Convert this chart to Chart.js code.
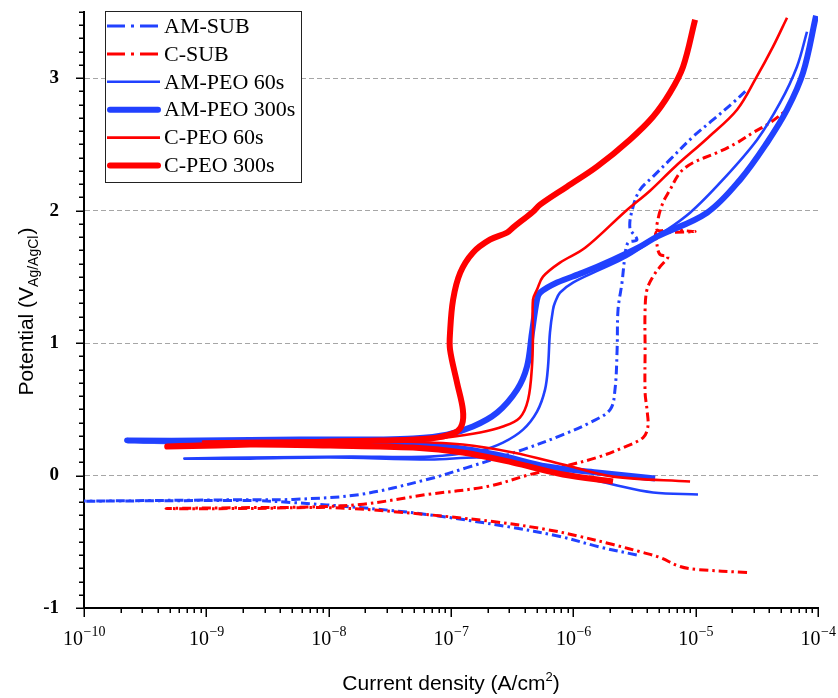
<!DOCTYPE html>
<html>
<head>
<meta charset="utf-8">
<title>Potentiodynamic polarization curves</title>
<script src="https://cdn.jsdelivr.net/npm/chart.js@4.4.1/dist/chart.umd.min.js"></script>
<style>
  html, body { margin: 0; padding: 0; background: #fff; }
  #wrap { width: 838px; height: 698px; }
</style>
</head>
<body>
<div id="wrap"><canvas id="c" width="838" height="698"></canvas></div>
<script>
// Current density (A/cm^2) and potential (V vs Ag/AgCl) for each sample,
// listed from the cathodic end through Ecorr to the anodic end.
const amSubJ = [3.3e-6, 1.65e-6, 7.78e-7, 2.87e-7, 6.37e-8, 1.80e-8, 5.11e-9, 2.28e-9, 5e-11, 2.28e-9, 5.11e-9, 1.80e-8, 6.37e-8, 1.35e-7, 3.88e-7, 8.24e-7, 1.37e-6, 2.0e-6, 2.19e-6, 2.28e-6, 2.32e-6, 2.50e-6, 2.64e-6, 2.80e-6, 3.31e-6, 2.90e-6, 3.08e-6, 3.51e-6, 4.48e-6, 6.17e-6, 9.5e-6, 1.39e-5, 2.02e-5, 2.63e-5];
const amSubE = [-0.60, -0.54, -0.46, -0.385, -0.294, -0.242, -0.204, -0.189, -0.196, -0.182, -0.18, -0.143, -0.03, 0.06, 0.196, 0.309, 0.40, 0.498, 0.649, 0.951, 1.253, 1.457, 1.653, 1.758, 1.78, 1.87, 2.03, 2.158, 2.257, 2.385, 2.558, 2.687, 2.815, 2.913];

const cSubJ = [2.63e-5, 1.03e-5, 7.45e-6, 5.12e-6, 3.72e-6, 2.11e-6, 1.135e-6, 6.10e-7, 2.20e-7, 3.36e-8, 9.68e-9, 2.28e-9, 4.68e-10, 2.28e-9, 5.11e-9, 1.80e-8, 6.37e-8, 1.97e-7, 4.43e-7, 8.24e-7, 1.56e-6, 2.55e-6, 3.72e-6, 4.07e-6, 4.0e-6, 3.86e-6, 3.86e-6, 3.86e-6, 4.0e-6, 4.48e-6, 5.12e-6, 5.94e-6, 5.12e-6, 4.83e-6, 4.83e-6, 9.89e-6, 4.92e-6, 4.92e-6, 5.40e-6, 6.17e-6, 7.45e-6, 9.5e-6, 1.50e-5, 2.18e-5, 2.94e-5, 4.06e-5, 5.58e-5];
const cSubE = [-0.732, -0.709, -0.687, -0.619, -0.581, -0.521, -0.46, -0.408, -0.347, -0.272, -0.242, -0.249, -0.249, -0.242, -0.240, -0.219, -0.143, -0.083, 0.008, 0.068, 0.136, 0.211, 0.287, 0.37, 0.498, 0.626, 0.951, 1.253, 1.404, 1.502, 1.577, 1.653, 1.668, 1.743, 1.842, 1.842, 1.85, 1.932, 2.06, 2.158, 2.287, 2.362, 2.438, 2.513, 2.589, 2.664, 2.762];

const amPeo60J = [1.045e-5, 4.48e-6, 2.11e-6, 1.135e-6, 6.10e-7, 3.21e-7, 1.73e-7, 6.73e-8, 1.03e-8, 2.28e-9, 6.61e-10, 2.28e-9, 1.49e-8, 6.73e-8, 1.73e-7, 2.66e-7, 3.88e-7, 5.05e-7, 5.87e-7, 6.21e-7, 6.44e-7, 6.82e-7, 7.08e-7, 7.78e-7, 9.93e-7, 1.65e-6, 2.75e-6, 4.83e-6, 9.0e-6, 1.67e-5, 3.18e-5, 4.90e-5, 6.73e-5, 8.13e-5];
const amPeo60E = [-0.143, -0.128, -0.068, -0.008, 0.06, 0.106, 0.136, 0.121, 0.136, 0.128, 0.128, 0.136, 0.143, 0.143, 0.189, 0.249, 0.347, 0.483, 0.649, 0.823, 1.079, 1.253, 1.306, 1.381, 1.457, 1.555, 1.653, 1.804, 1.985, 2.234, 2.536, 2.815, 3.087, 3.351];

const amPeo300J = [4.66e-6, 1.56e-6, 6.10e-7, 2.38e-7, 9.27e-8, 3.62e-8, 5.83e-9, 8.87e-10, 2.25e-10, 8.87e-10, 5.83e-9, 2.63e-8, 4.90e-8, 9.27e-8, 1.51e-7, 2.38e-7, 3.47e-7, 4.18e-7, 4.59e-7, 5.05e-7, 5.35e-7, 7.36e-7, 1.20e-6, 2.11e-6, 3.51e-6, 4.83e-6, 1.24e-5, 2.31e-5, 3.83e-5, 5.58e-5, 7.55e-5, 9.64e-5];
const amPeo300E = [-0.023, 0.023, 0.068, 0.158, 0.219, 0.249, 0.257, 0.257, 0.264, 0.264, 0.272, 0.272, 0.279, 0.309, 0.37, 0.475, 0.649, 0.823, 1.079, 1.328, 1.381, 1.457, 1.532, 1.630, 1.728, 1.804, 1.985, 2.234, 2.513, 2.762, 3.042, 3.472];

const cPeo60J = [9.0e-6, 2.11e-6, 8.24e-7, 3.21e-7, 1.25e-7, 3.62e-8, 5.83e-9, 9.4e-10, 5.83e-9, 4.90e-8, 9.27e-8, 1.73e-7, 2.66e-7, 3.66e-7, 4.27e-7, 4.59e-7, 4.68e-7, 4.68e-7, 5.05e-7, 5.65e-7, 7.78e-7, 1.25e-6, 2.70e-6, 4.24e-6, 6.78e-6, 1.26e-5, 2.18e-5, 3.11e-5, 4.29e-5, 5.58e-5];
const cPeo60E = [-0.045, -0.008, 0.083, 0.174, 0.234, 0.257, 0.257, 0.257, 0.264, 0.264, 0.287, 0.325, 0.37, 0.438, 0.574, 0.823, 1.079, 1.328, 1.404, 1.502, 1.608, 1.72, 2.0, 2.151, 2.332, 2.551, 2.762, 3.0, 3.238, 3.457];

const cPeo300J = [2.11e-6, 8.24e-7, 3.21e-7, 1.25e-7, 4.90e-8, 1.03e-8, 2.28e-9, 4.79e-10, 2.28e-9, 1.03e-8, 2.63e-8, 6.73e-8, 1.08e-7, 1.23e-7, 1.25e-7, 1.12e-7, 9.82e-8, 9.82e-8, 1.04e-7, 1.19e-7, 1.51e-7, 2.08e-7, 2.87e-7, 3.21e-7, 4.68e-7, 5.35e-7, 8.87e-7, 1.56e-6, 2.90e-6, 4.48e-6, 6.17e-6, 7.89e-6, 9.89e-6];
const cPeo300E = [-0.045, 0.008, 0.098, 0.174, 0.211, 0.226, 0.234, 0.219, 0.234, 0.257, 0.264, 0.279, 0.325, 0.385, 0.498, 0.702, 0.951, 1.079, 1.328, 1.532, 1.683, 1.781, 1.834, 1.872, 1.992, 2.045, 2.181, 2.332, 2.536, 2.709, 2.891, 3.087, 3.442];

const seriesLabels = ['AM-SUB', 'C-SUB', 'AM-PEO 60s', 'AM-PEO 300s', 'C-PEO 60s', 'C-PEO 300s'];
const xDecades = [-10, -9, -8, -7, -6, -5, -4];
const yMajorTicks = [-1, 0, 1, 2, 3];

const BLUE = '#2141ff';
const RED = '#ff0000';
const DASH_DOT = [9, 4, 2.5, 4];
const LEGEND_DASH_DOT = [18, 6, 3, 6];

function pairs(js, es) {
  return js.map((j, i) => ({ x: j, y: es[i] }));
}

const styles = [
  { data: pairs(amSubJ, amSubE), color: BLUE, width: 3, dash: DASH_DOT },
  { data: pairs(cSubJ, cSubE), color: RED, width: 3, dash: DASH_DOT },
  { data: pairs(amPeo60J, amPeo60E), color: BLUE, width: 2.6, dash: [] },
  { data: pairs(amPeo300J, amPeo300E), color: BLUE, width: 6, dash: [] },
  { data: pairs(cPeo60J, cPeo60E), color: RED, width: 2.6, dash: [] },
  { data: pairs(cPeo300J, cPeo300E), color: RED, width: 6, dash: [] }
];

const datasets = styles.map((s, i) => ({
  label: seriesLabels[i],
  data: s.data,
  showLine: true,
  borderColor: s.color,
  backgroundColor: s.color,
  borderWidth: s.width,
  borderDash: s.dash,
  borderCapStyle: 'butt',
  borderJoinStyle: 'round',
  pointRadius: 0,
  pointHoverRadius: 0,
  tension: 0.35,
  fill: false,
  order: seriesLabels.length - i
}));

const SERIF = '"Liberation Serif", "Times New Roman", serif';
const SANS = '"Liberation Sans", Arial, sans-serif';

// Tick marks, exponent tick labels, axis titles and the boxed legend.
const decorations = {
  id: 'decorations',
  afterDraw(chart) {
    const { ctx, chartArea: a, scales: { x, y } } = chart;
    ctx.save();

    // y ticks: major on integers, minor every 0.1 V
    ctx.strokeStyle = '#000';
    ctx.lineWidth = 1.5;
    for (let k = 0; k <= 45; k++) {
      const v = -1 + k * 0.1;
      const py = Math.round(y.getPixelForValue(v)) + 0.25;
      const len = (k % 10 === 0) ? 8 : 5;
      ctx.beginPath();
      ctx.moveTo(a.left - len, py);
      ctx.lineTo(a.left, py);
      ctx.stroke();
    }

    // x ticks: decades plus 2..9 minors
    xDecades.forEach((d) => {
      const px = Math.round(x.getPixelForValue(Math.pow(10, d))) + 0.25;
      ctx.beginPath();
      ctx.moveTo(px, a.bottom);
      ctx.lineTo(px, a.bottom + 9);
      ctx.stroke();
      if (d < xDecades[xDecades.length - 1]) {
        for (let m = 2; m <= 9; m++) {
          const mx = Math.round(x.getPixelForValue(m * Math.pow(10, d))) + 0.25;
          ctx.beginPath();
          ctx.moveTo(mx, a.bottom);
          ctx.lineTo(mx, a.bottom + 5);
          ctx.stroke();
        }
      }
    });

    // x tick labels as 10 with a superscript exponent
    ctx.fillStyle = '#000';
    ctx.textBaseline = 'alphabetic';
    ctx.textAlign = 'left';
    xDecades.forEach((d) => {
      const base = '10';
      const exp = '\u2212' + Math.abs(d);
      ctx.font = '20px ' + SERIF;
      const wb = ctx.measureText(base).width;
      ctx.font = '14px ' + SERIF;
      const we = ctx.measureText(exp).width;
      const cx = x.getPixelForValue(Math.pow(10, d));
      const left = cx - (wb + we) / 2;
      ctx.font = '20px ' + SERIF;
      ctx.fillText(base, left, 645);
      ctx.font = '14px ' + SERIF;
      ctx.fillText(exp, left + wb + 0.5, 636);
    });

    // x title with superscript 2
    {
      const t1 = 'Current density (A/cm';
      const t2 = '2';
      const t3 = ')';
      ctx.font = '21px ' + SANS;
      const w1 = ctx.measureText(t1).width;
      const w3 = ctx.measureText(t3).width;
      ctx.font = '13px ' + SANS;
      const w2 = ctx.measureText(t2).width;
      const cx = (a.left + a.right) / 2;
      let sx = cx - (w1 + w2 + w3) / 2;
      ctx.font = '21px ' + SANS;
      ctx.fillText(t1, sx, 690);
      ctx.font = '13px ' + SANS;
      ctx.fillText(t2, sx + w1, 681);
      ctx.font = '21px ' + SANS;
      ctx.fillText(t3, sx + w1 + w2, 690);
    }

    // y title with subscript reference electrode
    {
      const t1 = 'Potential (V';
      const t2 = 'Ag/AgCl';
      const t3 = ')';
      ctx.font = '21px ' + SANS;
      const w1 = ctx.measureText(t1).width;
      const w3 = ctx.measureText(t3).width;
      ctx.font = '14px ' + SANS;
      const w2 = ctx.measureText(t2).width;
      const total = w1 + w2 + w3;
      const cy = 312;
      ctx.save();
      ctx.translate(33, cy);
      ctx.rotate(-Math.PI / 2);
      let sx = -total / 2;
      ctx.font = '21px ' + SANS;
      ctx.fillText(t1, sx, 0);
      ctx.font = '14px ' + SANS;
      ctx.fillText(t2, sx + w1, 5);
      ctx.font = '21px ' + SANS;
      ctx.fillText(t3, sx + w1 + w2 + 1, 0);
      ctx.restore();
    }

    // legend box
    const box = { left: 105.5, top: 11.5, right: 301.5, bottom: 182.5 };
    ctx.fillStyle = '#fff';
    ctx.fillRect(box.left, box.top, box.right - box.left, box.bottom - box.top);
    ctx.strokeStyle = '#222';
    ctx.lineWidth = 1;
    ctx.setLineDash([]);
    ctx.strokeRect(box.left, box.top, box.right - box.left, box.bottom - box.top);
    chart.data.datasets.forEach((ds, i) => {
      const ly = 26 + i * 27.9;
      ctx.strokeStyle = ds.borderColor;
      ctx.lineWidth = ds.borderWidth;
      ctx.lineCap = ds.borderWidth > 4 ? 'round' : 'butt';
      ctx.setLineDash(ds.borderDash && ds.borderDash.length ? LEGEND_DASH_DOT : []);
      ctx.beginPath();
      ctx.moveTo(ds.borderWidth > 4 ? 110 : 107, ly);
      ctx.lineTo(ds.borderWidth > 4 ? 158 : 160, ly);
      ctx.stroke();
      ctx.setLineDash([]);
      ctx.fillStyle = '#000';
      ctx.font = '22px ' + SERIF;
      ctx.textBaseline = 'middle';
      ctx.fillText(ds.label, 164, ly + 1);
    });
    ctx.restore();
  }
};

new Chart(document.getElementById('c'), {
  type: 'scatter',
  data: { datasets },
  options: {
    responsive: false,
    devicePixelRatio: 1,
    animation: false,
    events: [],
    layout: { padding: { top: 12, right: 20, left: 0, bottom: 0 } },
    plugins: {
      legend: { display: false },
      tooltip: { enabled: false },
      title: { display: false }
    },
    scales: {
      x: {
        type: 'logarithmic',
        min: 1e-10,
        max: 1e-4,
        ticks: { display: false },
        grid: { display: false, drawTicks: false },
        border: { display: true, color: '#000', width: 2 },
        afterFit(scale) {
          scale.height = 90;
          scale.paddingLeft = 0;
          scale.paddingRight = 0;
        }
      },
      y: {
        type: 'linear',
        min: -1,
        max: 3.5,
        afterBuildTicks(scale) {
          scale.ticks = yMajorTicks.map((v) => ({ value: v }));
        },
        ticks: {
          autoSkip: false,
          padding: 25,
          color: '#000',
          font: { family: SERIF, size: 19, weight: 'bold' },
          callback: (v) => String(v)
        },
        grid: {
          drawTicks: false,
          lineWidth: 1,
          color: (c) => (c.tick && c.tick.value > -1) ? '#a6a6a6' : 'rgba(0,0,0,0)'
        },
        border: { display: true, color: '#000', width: 2, dash: [5, 3] },
        afterFit(scale) {
          scale.width = 84;
          scale.paddingTop = 0;
          scale.paddingBottom = 0;
        }
      }
    }
  },
  plugins: [decorations]
});
</script>
</body>
</html>
